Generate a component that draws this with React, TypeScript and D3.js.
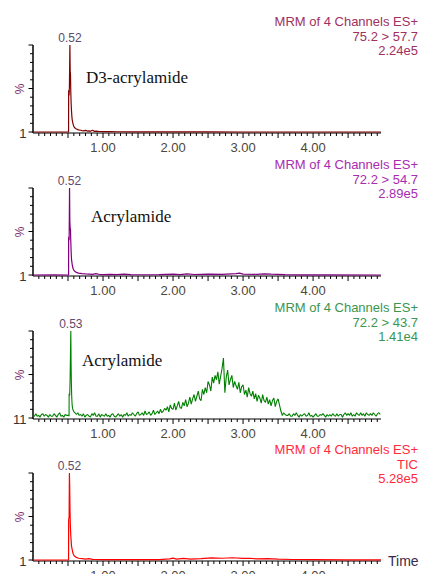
import React from 'react';
import * as d3 from 'd3';

// ---------- data ----------
const timeDomain: [number, number] = [0, 4.97];
const xTickLabelValues = [1, 2, 3, 4];
const xTickLabels = ['1.00', '2.00', '3.00', '4.00'];

const headerTitles = ['MRM of 4 Channels ES+', 'MRM of 4 Channels ES+', 'MRM of 4 Channels ES+', 'MRM of 4 Channels ES+'];
const headerChannels = ['75.2 > 57.7', '72.2 > 54.7', '72.2 > 43.7', 'TIC'];
const headerIntensities = ['2.24e5', '2.89e5', '1.41e4', '5.28e5'];
const peakLabels = ['0.52', '0.52', '0.53', '0.52'];
const peakTimes = [0.527, 0.522, 0.54, 0.52];
const compoundNames = ['D3-acrylamide', 'Acrylamide', 'Acrylamide', ''];
const yMinLabels = ['1', '1', '11', '1'];

// [time (min), intensity (%)]
const d3AcrylTrace: [number, number][] = [
  [0, 0], [0.2, 0], [0.4, 0], [0.5, 0], [0.508, 0], [0.509, 48], [0.515, 42], [0.52, 52], [0.527, 100],
  [0.531, 70], [0.535, 66], [0.54, 45], [0.545, 32], [0.55, 24], [0.555, 18], [0.56, 14], [0.57, 10],
  [0.58, 7], [0.59, 5.5], [0.6, 4.5], [0.62, 3.5], [0.65, 2.5], [0.68, 2], [0.7, 1.6], [0.72, 1.3],
  [0.75, 1.8], [0.78, 1.0], [0.8, 1.2], [0.82, 0.8], [0.85, 2], [0.88, 0.7], [0.9, 0.9], [0.95, 0.6],
  [1.0, 0.5], [1.1, 0.4], [1.2, 0.3], [1.4, 0.2], [1.6, 0.2], [2.0, 0.1], [2.5, 0.1], [3.0, 0],
  [3.5, 0], [4.0, 0], [4.5, 0], [4.97, 0],
];

const acrylQualTrace: [number, number][] = [
  [0, 0], [0.3, 0.2], [0.5, 0], [0.508, 0], [0.509, 44], [0.516, 40], [0.522, 100], [0.526, 62],
  [0.53, 55], [0.535, 52], [0.54, 38], [0.545, 26], [0.55, 18], [0.56, 12], [0.57, 8], [0.58, 6],
  [0.6, 4], [0.62, 3], [0.65, 2.2], [0.7, 1.5], [0.75, 1.2], [0.8, 1.0], [0.85, 0.8], [0.9, 1.5],
  [0.95, 0.6], [1.0, 0.5], [1.1, 0.8], [1.2, 0.4], [1.3, 0.9], [1.4, 0.4], [1.6, 0.3], [1.8, 0.5],
  [2.0, 0.9], [2.1, 0.5], [2.2, 1.2], [2.3, 0.6], [2.5, 1.0], [2.7, 0.7], [2.9, 1.5], [2.95, 2.2],
  [3.0, 1.0], [3.2, 0.8], [3.3, 1.4], [3.4, 0.9], [3.6, 0.4], [3.8, 0.2], [4.2, 0.1], [4.97, 0],
];

// 72.2 > 43.7 : baseline before peak (t = 0 .. 0.48, step 0.02)
const acrylConfBefore = [3, 2, 5, 2, 3, 1, 4, 5, 2, 4, 3, 1, 4, 2, 2, 5, 3, 1, 4, 6, 2, 3, 1, 4, 3];
const acrylConfPeak: [number, number][] = [
  [0.5, 3], [0.51, 3], [0.515, 2], [0.516, 28], [0.524, 26], [0.53, 45], [0.54, 100], [0.544, 62],
  [0.548, 41], [0.553, 24], [0.558, 16], [0.565, 11], [0.575, 9], [0.585, 7], [0.6, 6], [0.62, 4],
];
// t = 0.64 .. 4.96, step 0.02
const acrylConfAfter = [
  6, 3, 4, 2, 5, 1, 3, 4, 2, 1, 5, 3, 6, 2, 2, 5, 1, 4,
  3, 2, 5, 2, 3, 1, 4, 5, 2, 1, 3, 5, 2, 4, 1, 4, 3, 6, 2, 4,
  3, 6, 4, 2, 5, 7, 3, 4, 6, 3, 8, 4, 5, 7, 3,
  5, 9, 4, 6, 8, 5, 10, 6, 8, 11,
  9, 13, 7, 15, 11, 10, 17, 9, 14, 19, 12, 11, 18, 14, 21, 13, 17, 24,
  16, 22, 27, 19, 25, 31, 22, 20, 33, 27,
  35, 29, 42, 38, 31, 47, 40, 49,
  44, 53, 39, 48, 57, 69, 29,
  47, 55, 38, 44, 49, 35, 42, 37,
  33, 41, 29, 36, 38, 27, 32, 24, 35, 28,
  25, 31, 22, 28, 19, 26, 23, 17, 27, 20, 18,
  24, 16, 21, 14, 20, 23, 13, 19, 22, 15,
  8, 3, 6, 4, 3,
  3, 5, 2, 2, 5, 3, 6, 3, 1, 4,
  2, 4, 5, 2, 3, 6, 2, 3, 1, 3,
  5, 2, 2, 4, 3, 5, 3, 1, 4, 2,
  4, 2, 5, 3, 2, 5, 2, 4, 4, 1,
  4, 6, 3, 5, 3, 6, 2, 4, 2, 6,
  4, 3, 6, 3, 5, 2, 6, 4, 3, 5,
  3, 6, 4, 2, 5, 6, 4,
];

const ticTrace: [number, number][] = [
  [0, 0], [0.5, 0], [0.508, 0], [0.509, 46], [0.516, 50], [0.52, 100], [0.524, 85], [0.528, 60],
  [0.533, 40], [0.54, 28], [0.545, 22], [0.55, 16], [0.56, 12], [0.57, 8], [0.58, 6], [0.6, 4],
  [0.62, 3], [0.65, 2], [0.7, 1.5], [0.75, 1.0], [0.8, 1.6], [0.85, 0.8], [0.9, 0.6], [1.0, 0.5],
  [1.2, 0.4], [1.5, 0.4], [1.8, 0.5], [1.95, 1.2], [2.0, 2.2], [2.05, 1.0], [2.15, 1.8], [2.25, 1.0],
  [2.4, 1.6], [2.55, 2.4], [2.7, 2.0], [2.85, 2.6], [3.0, 1.8], [3.1, 2.0], [3.2, 1.2], [3.35, 1.6],
  [3.5, 1.0], [3.7, 0.6], [4.0, 0.4], [4.5, 0.2], [4.97, 0.2],
];

const acrylConfTrace: [number, number][] = [
  ...acrylConfBefore.map((v, i) => [i * 0.02, v] as [number, number]),
  ...acrylConfPeak,
  ...acrylConfAfter.map((v, i) => [0.64 + i * 0.02, v] as [number, number]),
];

const traces = [d3AcrylTrace, acrylQualTrace, acrylConfTrace, ticTrace];

// ---------- styles ----------
const traceColors = ['#800000', '#800080', '#008000', '#ff0000'];
const headerColors = ['#a03060', '#a82cb0', '#3a9650', '#ff2a3c'];
const panelTops = [45, 188, 331, 473];
const panelHeight = 88;
const compoundPos = [[86, 83], [91, 222], [82, 366], [0, 0]];

const SANS = '"Liberation Sans", Arial, sans-serif';
const SERIF = '"Liberation Serif", "Times New Roman", serif';

const x = d3.scaleLinear().domain(timeDomain).range([33, 381]);
const xMinorTicks = d3.range(1, 60).map((k) => k / 12);

function Panel({ idx }: { idx: number }) {
  const top = panelTops[idx];
  const base = top + panelHeight;
  const y = d3.scaleLinear().domain([0, 100]).range([base - 1, top]);
  const line = d3
    .line<[number, number]>()
    .x((d) => x(d[0]))
    .y((d) => y(d[1]));
  const yTicks = d3.range(0, 101, 10);
  const peakX = x(peakTimes[idx]);
  return (
    <g>
      {/* header */}
      <g fontFamily={SANS} fontSize={13} fill={headerColors[idx]} textAnchor="end">
        <text x={418} y={top - 19.5}>{headerTitles[idx]}</text>
        <text x={418} y={top - 4.5}>{headerChannels[idx]}</text>
        <text x={418} y={top + 9.5}>{headerIntensities[idx]}</text>
      </g>
      {/* y axis */}
      <line x1={33} x2={33} y1={top} y2={base} stroke="#000" strokeWidth={1.5} />
      {yTicks.map((t) => (
        <line
          key={t}
          x1={t % 50 === 0 ? 28.5 : 30}
          x2={33}
          y1={y(t)}
          y2={y(t)}
          stroke="#000"
          strokeWidth={1}
        />
      ))}
      <text
        fontFamily={SANS}
        fontSize={12}
        fill="#7a2a6a"
        textAnchor="middle"
        transform={`translate(24,${top + panelHeight / 2}) rotate(-90)`}
      >
        %
      </text>
      <text fontFamily={SANS} fontSize={13} fill="#333" textAnchor="end" x={26.5} y={base + 4.5}>
        {yMinLabels[idx]}
      </text>
      {/* x axis */}
      <line x1={33} x2={381} y1={base} y2={base} stroke="#000" strokeWidth={1.2} />
      {xMinorTicks.map((t, k) => (
        <line
          key={k}
          x1={x(t)}
          x2={x(t)}
          y1={base}
          y2={base + ((k + 1) % 6 === 0 ? 5 : 3)}
          stroke="#000"
          strokeWidth={1}
        />
      ))}
      {xTickLabelValues.map((t, i) => (
        <text
          key={t}
          x={x(t)}
          y={base + 18.5}
          fontFamily={SANS}
          fontSize={13}
          fill="#4e4838"
          textAnchor="middle"
        >
          {xTickLabels[i]}
        </text>
      ))}
      {idx === 3 && (
        <text x={388} y={base + 5} fontFamily={SANS} fontSize={14} fill="#3a2a4a">
          Time
        </text>
      )}
      {/* trace */}
      <path
        d={line(traces[idx]) || ''}
        fill="none"
        stroke={traceColors[idx]}
        strokeWidth={idx === 2 ? 1.1 : 1.2}
        strokeLinejoin="bevel"
      />
      {/* peak label */}
      <text x={peakX} y={top - 3} fontFamily={SANS} fontSize={12} fill="#5c4a6e" textAnchor="middle">
        {peakLabels[idx]}
      </text>
      {compoundNames[idx] && (
        <text x={compoundPos[idx][0]} y={compoundPos[idx][1]} fontFamily={SERIF} fontSize={17} fill="#111">
          {compoundNames[idx]}
        </text>
      )}
    </g>
  );
}

export default function App() {
  return (
    <svg
      width={421}
      height={574}
      style={{ position: 'absolute', left: 0, top: 0, background: '#fff' }}
    >
      <rect width={421} height={574} fill="#fff" />
      {[0, 1, 2, 3].map((i) => (
        <Panel key={i} idx={i} />
      ))}
    </svg>
  );
}
